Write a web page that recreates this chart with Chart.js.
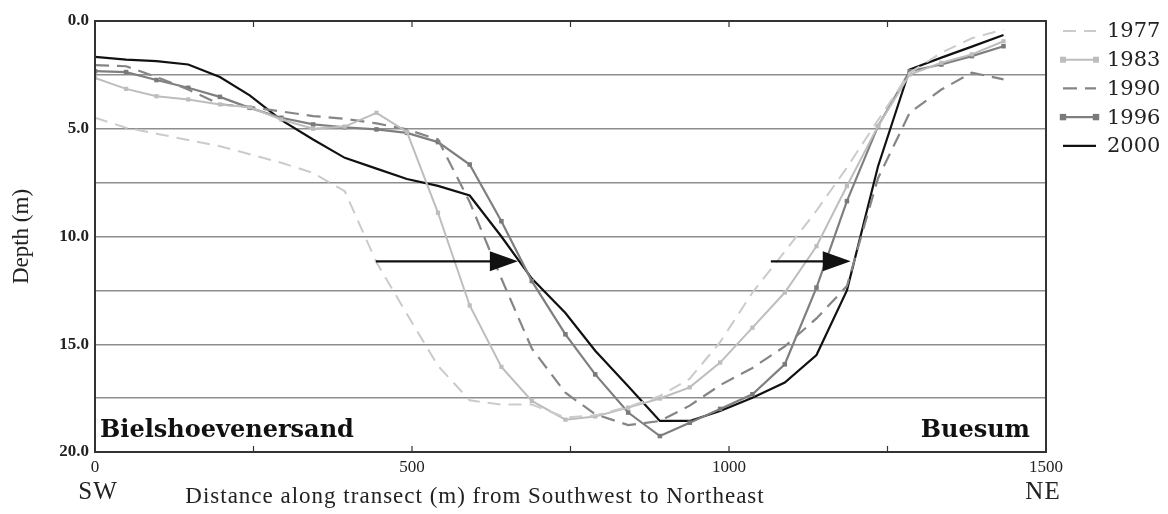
<!DOCTYPE html>
<html>
<head>
<meta charset="utf-8">
<script src="https://cdn.jsdelivr.net/npm/chart.js@4.4.1/dist/chart.umd.min.js"></script>
<style>
  html, body { margin: 0; padding: 0; background: #fff; }
  #wrap { width: 1168px; height: 514px; }
</style>
</head>
<body>
<div id="wrap"><canvas id="transect"></canvas></div>
<script>
// distance along transect (m), shared by all surveys
const distance = [0, 49, 97, 147, 197, 244, 294, 344, 394, 444, 492, 541, 591, 641, 689,
                  742, 789, 841, 891, 938, 986, 1037, 1088, 1138, 1186, 1235, 1285, 1335, 1383, 1433];

// depth (m) per survey year
const depth1977 = [4.49, 4.95, 5.23, 5.52, 5.81, 6.18, 6.58, 7.05, 7.9, 11.2, 13.6, 16.0, 17.6, 17.8, 17.8,
                   18.4, 18.3, 17.9, 17.4, 16.6, 14.9, 12.6, 10.7, 8.8, 6.8, 4.6, 2.4, 1.47, 0.8, 0.4];
const depth1983 = [2.64, 3.15, 3.49, 3.64, 3.87, 4.0, 4.57, 5.0, 4.9, 4.26, 5.15, 8.9, 13.2, 16.05, 17.63,
                   18.5, 18.35, 17.94, 17.52, 17.0, 15.85, 14.23, 12.6, 10.45, 7.66, 4.88, 2.48, 1.94, 1.55, 0.94];
const depth1990 = [2.05, 2.1, 2.6, 3.18, 3.87, 3.98, 4.2, 4.41, 4.54, 4.75, 5.03, 5.5, 8.4, 11.95, 15.2,
                   17.25, 18.25, 18.75, 18.56, 17.85, 16.9, 16.1, 15.1, 13.8, 12.3, 7.3, 4.26, 3.18, 2.4, 2.71];
const depth1996 = [2.33, 2.37, 2.74, 3.10, 3.52, 4.03, 4.49, 4.80, 4.93, 5.03, 5.19, 5.62, 6.66, 9.29, 12.07,
                   14.54, 16.40, 18.17, 19.26, 18.64, 18.00, 17.32, 15.93, 12.37, 8.36, 4.88, 2.33, 2.02, 1.63, 1.17];
const depth2000 = [1.66, 1.79, 1.86, 2.02, 2.6, 3.45, 4.6, 5.5, 6.35, 6.85, 7.33, 7.65, 8.1, 10.0, 11.95,
                   13.55, 15.3, 16.95, 18.56, 18.56, 18.1, 17.48, 16.78, 15.5, 12.5, 6.75, 2.25, 1.7, 1.19, 0.65];

const years = ['1977', '1983', '1990', '1996', '2000'];

// channel migration arrows: start / end distance (m) at a given depth (m)
const arrowFrom = [443, 1066];
const arrowTo = [667, 1192];
const arrowDepth = 11.15;

const SERIF = "'Liberation Serif', 'DejaVu Serif', serif";

function toPoints(depths) {
    return distance.map((d, i) => ({ x: d, y: depths[i] }));
}

// frame, inward ticks, arrows, legend and free text
const decorPlugin = {
    id: 'decor',
    afterDatasetsDraw(chart) {
        const ctx = chart.ctx;
        const xs = chart.scales.x, ys = chart.scales.y;
        ctx.save();
        ctx.strokeStyle = '#111';
        ctx.fillStyle = '#111';
        ctx.lineWidth = 2.2;
        for (let i = 0; i < arrowFrom.length; i++) {
            const x0 = xs.getPixelForValue(arrowFrom[i]);
            const x1 = xs.getPixelForValue(arrowTo[i]);
            const y = ys.getPixelForValue(arrowDepth);
            ctx.beginPath();
            ctx.moveTo(x0, y);
            ctx.lineTo(x1 - 20, y);
            ctx.stroke();
            ctx.beginPath();
            ctx.moveTo(x1, y);
            ctx.lineTo(x1 - 28, y - 10);
            ctx.lineTo(x1 - 28, y + 10);
            ctx.closePath();
            ctx.fill();
        }
        ctx.restore();
    },
    afterDraw(chart) {
        const ctx = chart.ctx;
        const a = chart.chartArea;
        const xs = chart.scales.x;
        ctx.save();

        // plot frame
        ctx.strokeStyle = '#333';
        ctx.lineWidth = 2;
        ctx.strokeRect(a.left, a.top, a.right - a.left, a.bottom - a.top);

        // inward tick marks every 250 m
        ctx.lineWidth = 1.2;
        for (let v = 250; v < 1500; v += 250) {
            const px = xs.getPixelForValue(v);
            ctx.beginPath();
            ctx.moveTo(px, a.bottom); ctx.lineTo(px, a.bottom - 6);
            ctx.moveTo(px, a.top); ctx.lineTo(px, a.top + 6);
            ctx.stroke();
        }

        // place names
        ctx.fillStyle = '#111';
        ctx.font = "bold 24px 'DejaVu Serif', serif";
        ctx.textBaseline = 'alphabetic';
        ctx.textAlign = 'left';
        ctx.fillText('Bielshoevenersand', a.left + 5, a.bottom - 15);
        ctx.textAlign = 'right';
        ctx.fillText('Buesum', a.right - 16, a.bottom - 15);

        // x axis caption and compass ends
        ctx.fillStyle = '#222';
        ctx.font = '23px ' + SERIF;
        ctx.textBaseline = 'middle';
        ctx.textAlign = 'center';
        ctx.letterSpacing = '1px';
        ctx.fillText('Distance along transect (m) from Southwest to Northeast', 475, 497);
        ctx.font = '25px ' + SERIF;
        ctx.fillText('SW', 98, 492);
        ctx.fillText('NE', 1043, 492);
        ctx.letterSpacing = '0px';

        // legend
        const lx0 = a.right + 17, lx1 = a.right + 50;
        chart.data.datasets.forEach((ds, i) => {
            const y = 31 + i * 28.7;
            ctx.strokeStyle = ds.borderColor;
            ctx.lineWidth = ds.borderWidth;
            ctx.setLineDash(ds.borderDash || []);
            ctx.beginPath();
            ctx.moveTo(lx0, y); ctx.lineTo(lx1, y);
            ctx.stroke();
            ctx.setLineDash([]);
            if (ds.pointRadius > 0) {
                ctx.fillStyle = ds.pointBackgroundColor;
                const r = ds.pointRadius;
                ctx.fillRect(lx0 - r, y - r, 2 * r, 2 * r);
                ctx.fillRect(lx1 - r, y - r, 2 * r, 2 * r);
            }
            ctx.fillStyle = '#222';
            ctx.font = "21px 'DejaVu Serif', serif";
            ctx.textAlign = 'left';
            ctx.fillText(ds.label, a.right + 61, y + 1);
        });
        ctx.restore();
    }
};

new Chart(document.getElementById('transect').getContext('2d'), {
    type: 'line',
    data: {
        datasets: [
            {
                label: years[0],
                data: toPoints(depth1977),
                borderColor: '#cbcbcb',
                borderWidth: 2,
                borderDash: [13, 8],
                pointRadius: 0
            },
            {
                label: years[1],
                data: toPoints(depth1983),
                borderColor: '#bdbdbd',
                borderWidth: 2,
                pointRadius: 3,
                pointStyle: 'rect',
                pointBackgroundColor: '#bdbdbd',
                pointBorderWidth: 0
            },
            {
                label: years[2],
                data: toPoints(depth1990),
                borderColor: '#858585',
                borderWidth: 2.2,
                borderDash: [14, 8],
                pointRadius: 0
            },
            {
                label: years[3],
                data: toPoints(depth1996),
                borderColor: '#7f7f7f',
                borderWidth: 2.2,
                pointRadius: 3.2,
                pointStyle: 'rect',
                pointBackgroundColor: '#7a7a7a',
                pointBorderWidth: 0
            },
            {
                label: years[4],
                data: toPoints(depth2000),
                borderColor: '#111111',
                borderWidth: 2.2,
                pointRadius: 0
            }
        ]
    },
    options: {
        responsive: true,
        maintainAspectRatio: false,
        animation: false,
        layout: { padding: { top: 21, right: 122, left: 0, bottom: 0 } },
        plugins: {
            legend: { display: false },
            tooltip: { enabled: false }
        },
        elements: { line: { tension: 0 } },
        scales: {
            x: {
                type: 'linear',
                min: 0,
                max: 1500,
                afterFit: (s) => { s.height = 62; },
                grid: { display: false, drawTicks: false },
                border: { display: false },
                ticks: {
                    stepSize: 500,
                    padding: 5,
                    color: '#222',
                    font: { family: SERIF, size: 17 },
                    callback: (v) => String(v)
                }
            },
            y: {
                min: 0,
                max: 20,
                reverse: true,
                afterFit: (s) => { s.width = 95; },
                grid: { color: '#8e8e8e', lineWidth: 1.5, drawTicks: false },
                border: { display: false },
                title: {
                    display: true,
                    text: 'Depth (m)',
                    color: '#222',
                    font: { family: SERIF, size: 23 },
                    padding: { top: 8, bottom: 0 }
                },
                ticks: {
                    stepSize: 2.5,
                    padding: 6,
                    color: '#222',
                    font: { family: SERIF, size: 17, weight: 'bold' },
                    callback: (v) => (v % 5 === 0 ? v.toFixed(1) : '')
                }
            }
        }
    },
    plugins: [decorPlugin]
});
</script>
</body>
</html>
